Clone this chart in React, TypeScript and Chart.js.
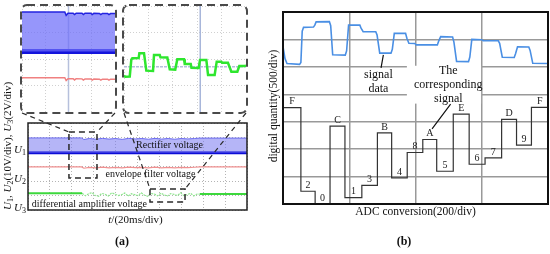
import React, { useEffect, useRef } from 'react';
import { Chart, registerables } from 'chart.js';

Chart.register(...registerables);

const SERIF = '"Liberation Serif", "Times New Roman", Times, serif';

// ---------------- Panel (a): main oscilloscope trace (x: divisions of 20 ms, y: divisions)
const A_BLUE_TOP_X = [0, 2.45, 2.55, 2.8, 3.1, 3.4, 3.7, 4.0, 4.3, 4.6, 4.9, 5.2, 5.5, 5.8, 6.1, 6.4, 6.7, 7.0, 7.3, 7.6, 7.85, 10];
const A_BLUE_TOP_Y = [4.97, 4.97, 4.86, 4.93, 4.88, 4.94, 4.89, 4.93, 4.87, 4.94, 4.9, 4.93, 4.88, 4.94, 4.89, 4.93, 4.88, 4.93, 4.9, 4.93, 4.96, 4.96];
const A_BLUE_BASE_X = [0, 10];
const A_BLUE_BASE_Y = [3.95, 3.95];
const A_RED_X = [0, 2.45, 2.55, 2.8, 3.1, 3.4, 3.7, 4.0, 4.3, 4.6, 4.9, 5.2, 5.5, 5.8, 6.1, 6.4, 6.7, 7.0, 7.3, 7.6, 7.85, 10];
const A_RED_Y = [2.97, 2.97, 2.88, 2.94, 2.9, 2.95, 2.91, 2.94, 2.9, 2.95, 2.92, 2.94, 2.9, 2.95, 2.91, 2.94, 2.9, 2.94, 2.92, 2.95, 2.97, 2.97];
const A_GREEN_X = [0, 2.47];
const A_GREEN_Y = [1.15, 1.15];
const A_GREEN_WAVE_X = [2.47, 2.62, 2.77, 2.92, 3.07, 3.22, 3.37, 3.52, 3.67, 3.82, 3.97, 4.12, 4.27, 4.42, 4.57, 4.72, 4.87, 5.02, 5.17, 5.32, 5.47, 5.62, 5.77, 5.92, 6.07, 6.22, 6.37, 6.52, 6.67, 6.82, 6.97, 7.12, 7.27, 7.42, 7.57, 7.72, 7.85];
const A_GREEN_WAVE_Y = [1.15, 0.98, 1.12, 1.2, 1.0, 0.95, 1.15, 1.08, 0.97, 1.18, 1.1, 1.0, 1.05, 1.17, 0.96, 1.12, 1.06, 0.99, 1.19, 1.02, 0.95, 1.14, 1.1, 0.98, 1.16, 1.04, 0.97, 1.13, 1.08, 1.0, 1.18, 0.99, 1.06, 1.15, 0.97, 1.1, 1.1];
const A_GREEN_END_X = [7.85, 10];
const A_GREEN_END_Y = [1.1, 1.1];
const A_GROUND_LEVELS = [4, 2, 0];
const A_GROUND_SUBS = ['1', '2', '3'];
// zoomed regions [x0, x1, yTop, yBottom]
const A_ZOOM_LEFT = [1.87, 3.15, 5.38, 2.21];
const A_ZOOM_RIGHT = [5.57, 7.17, 1.45, 0.55];

// ---------------- Inset 1 (rectifier / envelope detail)
const I1_TOP_X = [0, 1.84, 1.9, 1.98, 2.2, 2.26, 2.33, 2.58, 2.64, 2.71, 2.96, 3.02, 3.09, 3.33, 3.39, 3.46, 3.68, 3.74, 3.81, 4];
const I1_TOP_Y = [7.55, 7.55, 7.3, 7.46, 7.46, 7.36, 7.46, 7.45, 7.35, 7.45, 7.45, 7.36, 7.45, 7.44, 7.35, 7.44, 7.44, 7.35, 7.43, 7.43];
const I1_BASE_X = [0, 4];
const I1_BASE_Y = [4.57, 4.57];
const I1_RED_X = [0, 1.84, 1.9, 1.98, 2.2, 2.26, 2.33, 2.58, 2.64, 2.71, 2.96, 3.02, 3.09, 3.33, 3.39, 3.46, 3.68, 3.74, 3.81, 4];
const I1_RED_Y = [2.59, 2.59, 2.38, 2.51, 2.51, 2.42, 2.51, 2.5, 2.41, 2.5, 2.5, 2.41, 2.49, 2.48, 2.4, 2.48, 2.48, 2.4, 2.48, 2.48];

// ---------------- Inset 2 (differential amplifier detail)
const I2_X = [0, 0.1, 0.47, 0.6, 0.68, 1.2, 1.26, 1.64, 1.83, 2.38, 2.46, 2.93, 2.99, 3.55, 3.75, 4.2, 4.37, 4.92, 4.98, 5.47, 5.53, 6.12, 6.23, 6.75, 6.89, 7.43, 7.6, 7.98, 8.04, 8.52, 8.8, 9.29, 9.45, 9.89, 10];
const I2_Y = [2.75, 2.66, 2.68, 3.95, 4.05, 4.07, 4.43, 4.43, 3.12, 3.1, 4.3, 4.3, 4.13, 4.12, 3.22, 3.2, 3.98, 3.98, 3.62, 3.62, 3.34, 3.33, 3.92, 3.92, 2.79, 2.79, 3.8, 3.8, 3.72, 3.72, 3.04, 3.04, 3.47, 3.48, 3.5];
const I2_REF_X = 6.25;
const I2_REF_Y = 3.42;

// ---------------- Panel (b): ADC conversion
const B_SIGNAL_X = [0, 6, 12, 50, 54, 58, 62, 92, 96, 100, 140, 144, 150, 188, 192, 198, 232, 236, 242, 280, 284, 292, 326, 330, 336, 370, 374, 380, 398, 402, 466, 470, 476, 512, 516, 524, 560, 564, 570, 600, 604, 650, 654, 662, 698, 702, 708, 742, 746, 754, 800];
const B_SIGNAL_Y = [2870, 2650, 2560, 2545, 2580, 3150, 3220, 3225, 3260, 3320, 3325, 3250, 2720, 2715, 2790, 3260, 3260, 3200, 3140, 3140, 3080, 2750, 2750, 2820, 3110, 3110, 3020, 2930, 2925, 2900, 2900, 2970, 3050, 3045, 2950, 2600, 2595, 2680, 3000, 2995, 2978, 2975, 2930, 2675, 2670, 2740, 2865, 2862, 2800, 2565, 2560];
const B_LADDER_X = [0, 54, 97, 142, 187, 238, 285, 328, 375, 422, 464, 514, 562, 610, 660, 705, 750, 800];
const B_LADDER_Y = [1757, 232, 0, 1419, 117, 341, 1296, 475, 939, 1176, 597, 1638, 725, 840, 1541, 1072, 1760, 1760];
const B_LADDER_LABELS = ['F', '2', '0', 'C', '1', '3', 'B', '4', '8', 'A', '5', 'E', '6', '7', 'D', '9', 'F'];

// layout boxes (page px)
const INSET_L = { l: 21, t: 5, r: 116, b: 113 };
const INSET_R = { l: 123, t: 5, r: 247, b: 113 };

const pts = (xs: number[], ys: number[]) => xs.map((x, i) => ({ x, y: ys[i] }));

type Seg = { t: string; s?: 'i' | 'sub' | 'b' };
function segFont(s: Seg['s'], size: number) {
  if (s === 'i') return `italic ${size}px ${SERIF}`;
  if (s === 'sub') return `${Math.round(size * 0.72)}px ${SERIF}`;
  if (s === 'b') return `bold ${size}px ${SERIF}`;
  return `${size}px ${SERIF}`;
}
function drawRich(ctx: CanvasRenderingContext2D, segs: Seg[], x: number, y: number, size: number, align: 'left' | 'center' | 'right', rot = 0) {
  ctx.save();
  ctx.translate(x, y);
  if (rot) ctx.rotate(rot);
  ctx.textBaseline = 'middle';
  ctx.textAlign = 'left';
  ctx.fillStyle = '#111';
  let w = 0;
  const ws = segs.map((sg) => {
    ctx.font = segFont(sg.s, size);
    const m = ctx.measureText(sg.t).width;
    w += m;
    return m;
  });
  let cx = align === 'left' ? 0 : align === 'center' ? -w / 2 : -w;
  segs.forEach((sg, i) => {
    ctx.font = segFont(sg.s, size);
    ctx.fillText(sg.t, cx, sg.s === 'sub' ? size * 0.28 : 0);
    cx += ws[i];
  });
  ctx.restore();
  return w;
}
function whiteBox(ctx: CanvasRenderingContext2D, text: string, x: number, y: number, size: number, align: 'left' | 'center') {
  ctx.save();
  ctx.font = `${size}px ${SERIF}`;
  const w = ctx.measureText(text).width;
  const x0 = align === 'left' ? x : x - w / 2;
  ctx.fillStyle = '#fff';
  ctx.fillRect(x0 - 1, y - size * 0.55, w + 2, size * 1.1);
  ctx.restore();
}
function roundRectPath(ctx: CanvasRenderingContext2D, l: number, t: number, r: number, b: number, rad: number) {
  ctx.beginPath();
  ctx.moveTo(l + rad, t);
  ctx.lineTo(r - rad, t);
  ctx.arcTo(r, t, r, t + rad, rad);
  ctx.lineTo(r, b - rad);
  ctx.arcTo(r, b, r - rad, b, rad);
  ctx.lineTo(l + rad, b);
  ctx.arcTo(l, b, l, b - rad, rad);
  ctx.lineTo(l, t + rad);
  ctx.arcTo(l, t, l + rad, t, rad);
  ctx.closePath();
}

const hiddenAxis = (min: number, max: number, step: number, color: string, dash: number[], horizontal: boolean, lw = 1) => ({
  type: 'linear',
  min,
  max,
  ticks: { stepSize: step, display: false },
  grid: { color, lineWidth: lw, drawTicks: false },
  border: { display: false, dash },
  afterFit: (s: any) => {
    if (horizontal) s.height = 0;
    else s.width = 0;
  },
});

const baseOptions = (padding: any, x: any, y: any, plugins: any = {}) => ({
  responsive: false,
  animation: false,
  events: [],
  layout: { padding },
  elements: { point: { radius: 0 }, line: { tension: 0 } },
  plugins: { legend: { display: false }, tooltip: { enabled: false }, ...plugins },
  scales: { x, y },
});

// ---------------- Panel (a) plugin
const A_TEXT_BG = [
  { t: 'envelope filter voltage', x: 5.59, y: 2.48, align: 'center' as const },
  { t: 'differential amplifier voltage', x: 0.17, y: 0.36, align: 'left' as const },
];
const aPlugin = {
  id: 'aDecor',
  beforeDatasetsDraw(chart: any) {
    const { ctx, scales: { x, y } } = chart;
    A_TEXT_BG.forEach((o) => whiteBox(ctx, o.t, x.getPixelForValue(o.x), y.getPixelForValue(o.y), 10, o.align));
  },
  afterDraw(chart: any) {
    const { ctx, chartArea: ca, scales: { x, y } } = chart;
    ctx.save();
    ctx.setLineDash([]);
    ctx.strokeStyle = '#222';
    ctx.lineWidth = 1.5;
    ctx.strokeRect(ca.left, ca.top, ca.right - ca.left, ca.bottom - ca.top);

    A_GROUND_LEVELS.forEach((lv, i) =>
      drawRich(ctx, [{ t: 'U', s: 'i' }, { t: A_GROUND_SUBS[i], s: 'sub' }], ca.left - 2, y.getPixelForValue(lv) - 2, 11, 'right')
    );
    drawRich(ctx, [{ t: 'Rectifier voltage' }], x.getPixelForValue(6.46), y.getPixelForValue(4.43), 10, 'center');
    A_TEXT_BG.forEach((o) => drawRich(ctx, [{ t: o.t }], x.getPixelForValue(o.x), y.getPixelForValue(o.y), 10, o.align));

    // zoom rectangles
    ctx.strokeStyle = '#2a2a2a';
    ctx.lineWidth = 1.5;
    ctx.setLineDash([6, 4]);
    const rects = [A_ZOOM_LEFT, A_ZOOM_RIGHT].map((r) => ({
      l: x.getPixelForValue(r[0]),
      r: x.getPixelForValue(r[1]),
      t: y.getPixelForValue(r[2]),
      b: y.getPixelForValue(r[3]),
    }));
    rects.forEach((r) => ctx.strokeRect(r.l, r.t, r.r - r.l, r.b - r.t));

    // inset frames
    ctx.strokeStyle = '#4a4a4a';
    ctx.lineWidth = 2;
    ctx.setLineDash([8, 5]);
    [INSET_L, INSET_R].forEach((b) => {
      roundRectPath(ctx, b.l, b.t, b.r, b.b, 6);
      ctx.stroke();
    });

    // connectors
    ctx.strokeStyle = '#2a2a2a';
    ctx.lineWidth = 1.2;
    ctx.setLineDash([5, 4]);
    const conns = [
      [INSET_L.l + 1, INSET_L.b, rects[0].l, rects[0].t],
      [INSET_L.r - 1, INSET_L.b, rects[0].r, rects[0].t],
      [INSET_R.l + 1, INSET_R.b, rects[1].l, rects[1].t],
      [INSET_R.r - 1, INSET_R.b, rects[1].r, rects[1].t],
    ];
    conns.forEach((c) => {
      ctx.beginPath();
      ctx.moveTo(c[0], c[1]);
      ctx.lineTo(c[2], c[3]);
      ctx.stroke();
    });
    ctx.setLineDash([]);

    // titles
    drawRich(
      ctx,
      [
        { t: 'U', s: 'i' }, { t: '1', s: 'sub' }, { t: ', ' },
        { t: 'U', s: 'i' }, { t: '2', s: 'sub' }, { t: '(10V/div), ' },
        { t: 'U', s: 'i' }, { t: '3', s: 'sub' }, { t: '(2V/div)' },
      ],
      8, ca.bottom, 11, 'left', -Math.PI / 2
    );
    drawRich(ctx, [{ t: 't', s: 'i' }, { t: '/(20ms/div)' }], (ca.left + ca.right) / 2 - 2, 220, 11, 'center');
    drawRich(ctx, [{ t: '(a)', s: 'b' }], 122, 242, 12, 'center');
    ctx.restore();
  },
};

const makeA = () => ({
  type: 'line',
  data: {
    datasets: [
      { data: pts(A_BLUE_TOP_X, A_BLUE_TOP_Y), borderColor: '#6b6bf0', borderWidth: 1, fill: '+1', backgroundColor: 'rgba(120,120,240,0.55)' },
      { data: pts(A_BLUE_BASE_X, A_BLUE_BASE_Y), borderColor: '#0c0cd6', borderWidth: 3, fill: false },
      { data: pts(A_RED_X, A_RED_Y), borderColor: '#f09090', borderWidth: 1.2, fill: false },
      { data: pts(A_GREEN_X, A_GREEN_Y), borderColor: '#3cd83c', borderWidth: 2, fill: false },
      { data: pts(A_GREEN_WAVE_X, A_GREEN_WAVE_Y), borderColor: '#8fe68f', borderWidth: 1.2, borderDash: [2, 1], fill: false },
      { data: pts(A_GREEN_END_X, A_GREEN_END_Y), borderColor: '#3cd83c', borderWidth: 2, fill: false },
    ],
  },
  options: baseOptions(
    { left: 28, right: 17, top: 123, bottom: 44 },
    hiddenAxis(0, 10, 1, '#b4b4b4', [1, 2], true),
    hiddenAxis(0, 6, 1, '#b4b4b4', [1, 2], false)
  ),
  plugins: [aPlugin],
});

const makeI1 = () => ({
  type: 'line',
  data: {
    datasets: [
      { data: pts(I1_TOP_X, I1_TOP_Y), borderColor: '#2424e0', borderWidth: 1.5, fill: '+1', backgroundColor: 'rgba(110,110,250,0.72)' },
      { data: pts(I1_BASE_X, I1_BASE_Y), borderColor: '#1414dc', borderWidth: 5, fill: false },
      { data: pts(I1_RED_X, I1_RED_Y), borderColor: '#f08080', borderWidth: 1.5, fill: false },
      { data: [{ x: 2, y: 0 }, { x: 2, y: 8 }], borderColor: '#b6c0dc', borderWidth: 1.5, fill: false },
    ],
  },
  options: baseOptions({ left: 0, right: 0, top: 0, bottom: 0 }, hiddenAxis(0, 4, 1, '#d0d0d0', [1, 2], true), hiddenAxis(0, 8, 2, '#d0d0d0', [1, 2], false)),
});

const makeI2 = () => ({
  type: 'line',
  data: {
    datasets: [
      { data: pts(I2_X, I2_Y), borderColor: '#2ee62e', borderWidth: 2.5, fill: false },
      { data: [{ x: I2_REF_X, y: 0 }, { x: I2_REF_X, y: 8 }], borderColor: '#a8b6da', borderWidth: 1.5, fill: false },
      { data: [{ x: 0, y: I2_REF_Y }, { x: 10, y: I2_REF_Y }], borderColor: '#b4bedc', borderWidth: 1.5, borderDash: [3, 1], fill: false },
    ],
  },
  options: baseOptions({ left: 0, right: 0, top: 0, bottom: 0 }, hiddenAxis(0, 10, 2, '#d0d0d0', [1, 2], true), hiddenAxis(0, 8, 2, '#d0d0d0', [1, 2], false)),
});

// ---------------- Panel (b) plugin
const bPlugin = {
  id: 'bDecor',
  beforeDatasetsDraw(chart: any) {
    const { ctx, scales: { x, y } } = chart;
    const l = x.getPixelForValue(374), r = x.getPixelForValue(598);
    const t = y.getPixelForValue(2520), b = y.getPixelForValue(1830);
    ctx.save();
    ctx.fillStyle = '#fff';
    ctx.fillRect(l, t, r - l, b - t);
    ctx.restore();
  },
  afterDraw(chart: any) {
    const { ctx, chartArea: ca, scales: { x, y } } = chart;
    ctx.save();
    ctx.strokeStyle = '#111';
    ctx.lineWidth = 2;
    ctx.strokeRect(ca.left, ca.top, ca.right - ca.left, ca.bottom - ca.top);

    // ladder labels
    ctx.font = `10px ${SERIF}`;
    ctx.fillStyle = '#222';
    ctx.textAlign = 'center';
    ctx.textBaseline = 'bottom';
    B_LADDER_LABELS.forEach((lab, i) => {
      const cx = (x.getPixelForValue(B_LADDER_X[i]) + x.getPixelForValue(B_LADDER_X[i + 1])) / 2;
      ctx.fillText(lab, cx, y.getPixelForValue(B_LADDER_Y[i]) - 1);
    });

    // annotations
    drawRich(ctx, [{ t: 'signal' }], x.getPixelForValue(288), y.getPixelForValue(2350), 12, 'center');
    drawRich(ctx, [{ t: 'data' }], x.getPixelForValue(288), y.getPixelForValue(2107), 12, 'center');
    drawRich(ctx, [{ t: 'The' }], x.getPixelForValue(499), y.getPixelForValue(2429), 12, 'center');
    drawRich(ctx, [{ t: 'corresponding' }], x.getPixelForValue(499), y.getPixelForValue(2167), 12, 'center');
    drawRich(ctx, [{ t: 'signal' }], x.getPixelForValue(499), y.getPixelForValue(1925), 12, 'center');
    ctx.strokeStyle = '#111';
    ctx.lineWidth = 1.2;
    ctx.beginPath();
    ctx.moveTo(x.getPixelForValue(296), y.getPixelForValue(2480));
    ctx.lineTo(x.getPixelForValue(303), y.getPixelForValue(2720));
    ctx.moveTo(x.getPixelForValue(506), y.getPixelForValue(1820));
    ctx.lineTo(x.getPixelForValue(450), y.getPixelForValue(1370));
    ctx.stroke();

    drawRich(ctx, [{ t: 'digital quantity(500/div)' }], 10, (ca.top + ca.bottom) / 2 - 2, 11.5, 'center', -Math.PI / 2);
    drawRich(ctx, [{ t: 'ADC conversion(200/div)' }], (ca.left + ca.right) / 2, 212, 11.5, 'center');
    drawRich(ctx, [{ t: '(b)', s: 'b' }], 140, 242, 12, 'center');
    ctx.restore();
  },
};

const makeB = () => ({
  type: 'line',
  data: {
    datasets: [
      { data: pts(B_SIGNAL_X, B_SIGNAL_Y), borderColor: '#4a8fe4', borderWidth: 1.6, fill: false },
      { data: pts(B_LADDER_X, B_LADDER_Y), borderColor: '#333', borderWidth: 1.2, stepped: 'before', fill: false },
    ],
  },
  options: baseOptions(
    { left: 19, right: 2, top: 12, bottom: 50 },
    hiddenAxis(0, 800, 200, '#999', [], true, 1.5),
    hiddenAxis(0, 3500, 500, '#999', [], false, 1.5)
  ),
  plugins: [bPlugin],
});

function ChartCanvas(props: { left: number; top: number; width: number; height: number; make: () => any }) {
  const ref = useRef<HTMLCanvasElement>(null);
  useEffect(() => {
    const c = new Chart(ref.current as HTMLCanvasElement, props.make());
    return () => c.destroy();
  }, []);
  return (
    <canvas
      ref={ref}
      width={props.width}
      height={props.height}
      style={{ position: 'absolute', left: props.left, top: props.top, width: props.width, height: props.height }}
    />
  );
}

export default function App() {
  return (
    <div style={{ position: 'fixed', left: 0, top: 0, width: 550, height: 254, background: '#fff', overflow: 'hidden' }}>
      <ChartCanvas left={0} top={0} width={264} height={254} make={makeA} />
      <ChartCanvas left={264} top={0} width={286} height={254} make={makeB} />
      <ChartCanvas left={INSET_L.l + 1} top={INSET_L.t + 1} width={INSET_L.r - INSET_L.l - 2} height={INSET_L.b - INSET_L.t - 2} make={makeI1} />
      <ChartCanvas left={INSET_R.l + 1} top={INSET_R.t + 1} width={INSET_R.r - INSET_R.l - 2} height={INSET_R.b - INSET_R.t - 2} make={makeI2} />
    </div>
  );
}
